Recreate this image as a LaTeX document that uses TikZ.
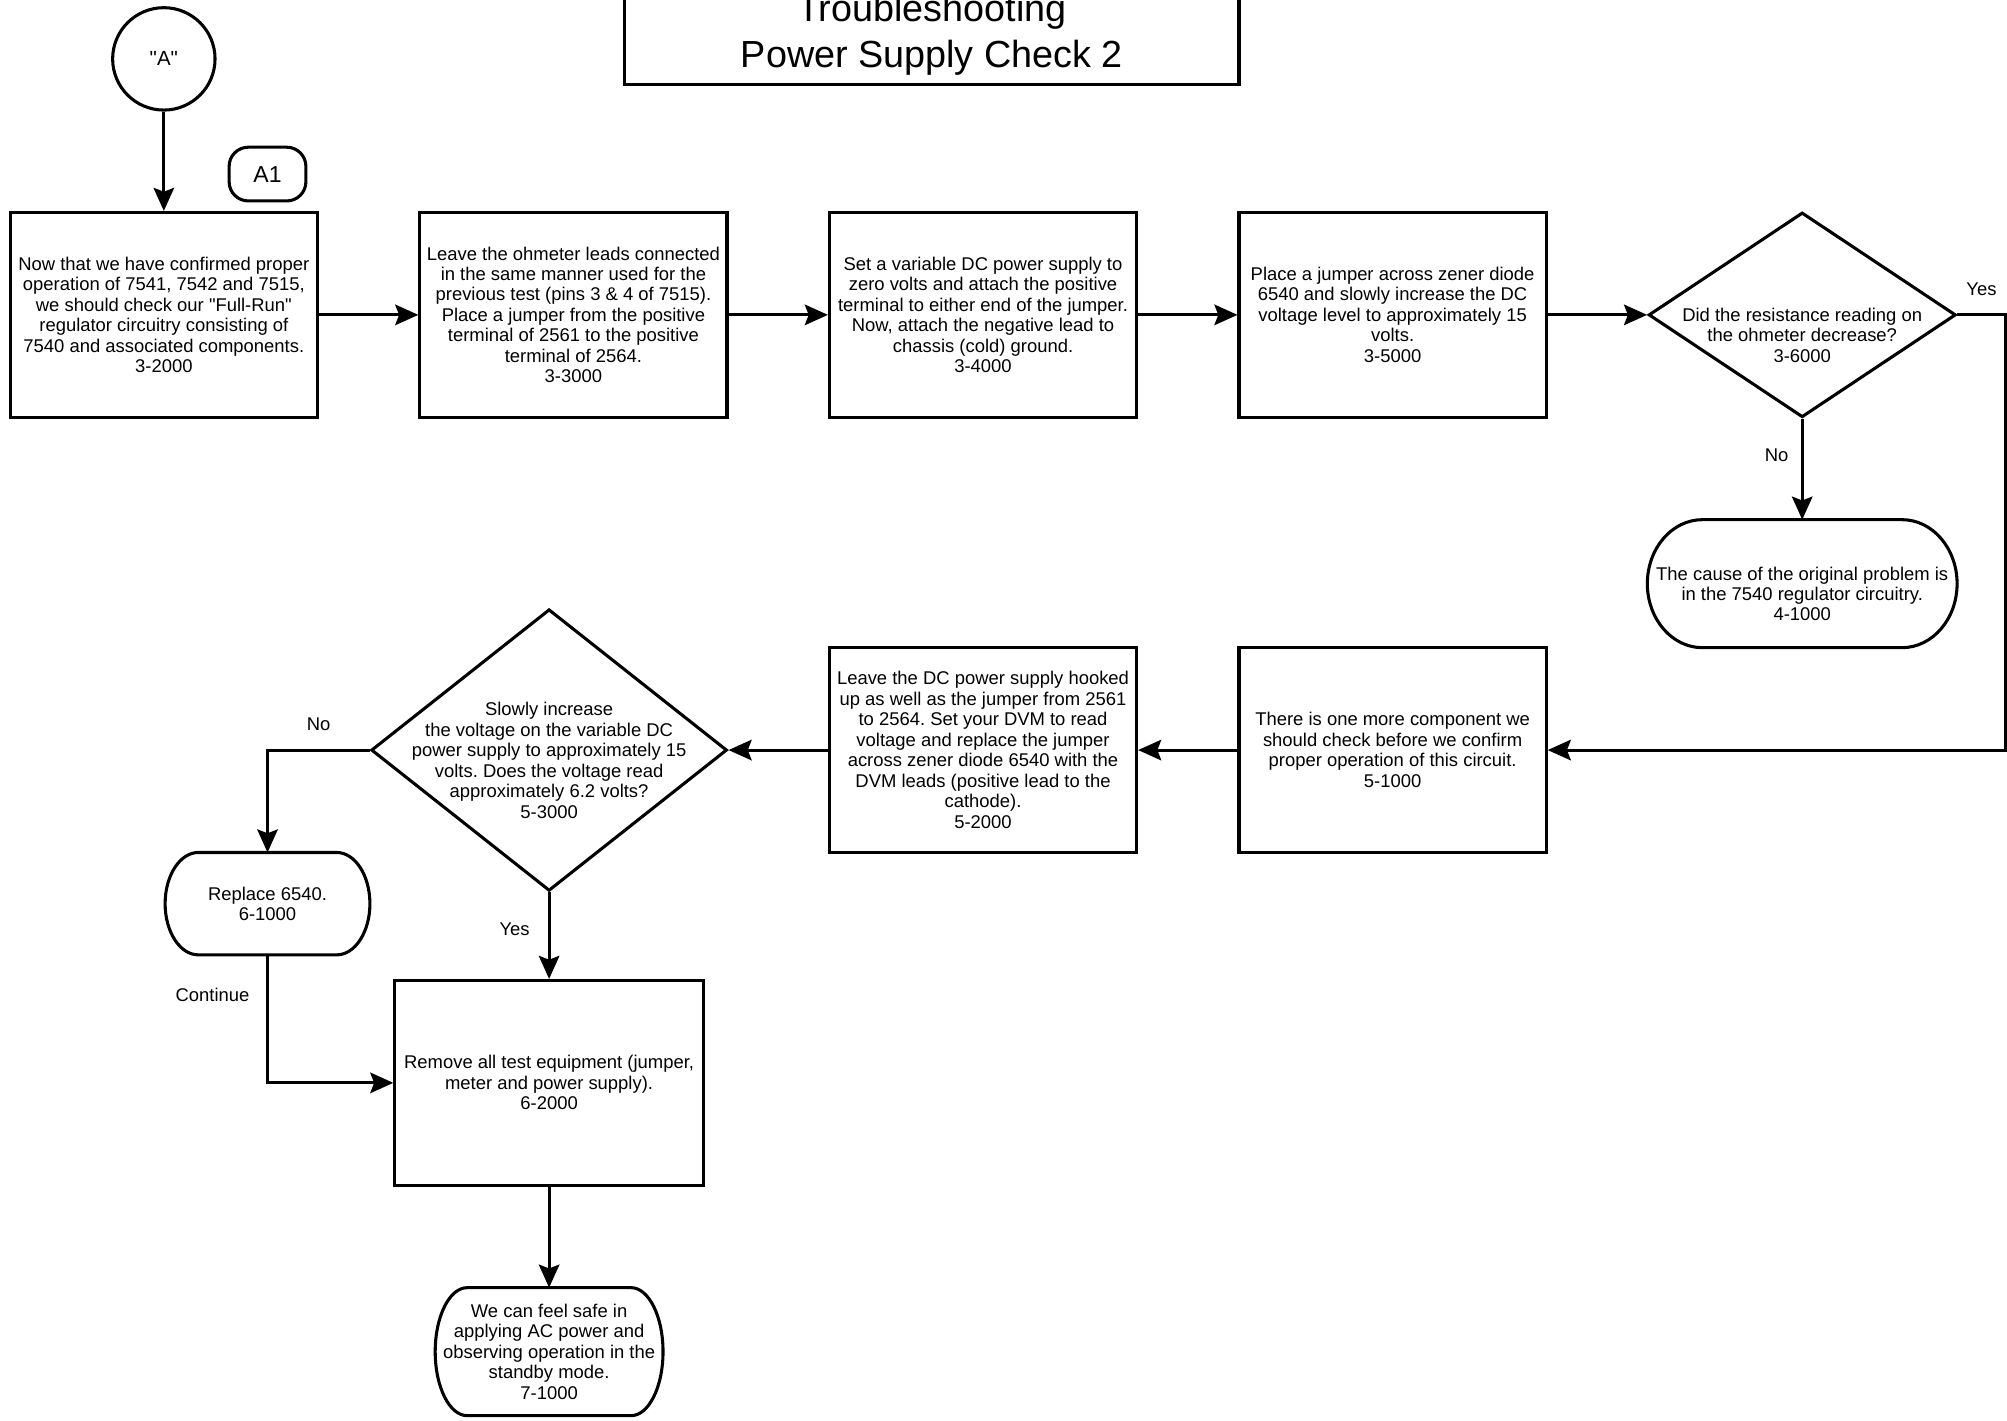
\documentclass[tikz,border=0pt]{standalone}
\usepackage{fontspec}
\setmainfont{Liberation Sans}[Ligatures=TeXOff]
\usetikzlibrary{shapes.geometric,arrows.meta}
\frenchspacing

\begin{document}
\begin{tikzpicture}[x=1pt,y=-1pt,
  every node/.style={font=\fontsize{14.4}{16}\selectfont, align=center},
  stepbox/.style={draw, line width=2.4pt, rectangle, minimum width=240pt,
    minimum height=160pt, inner sep=0pt},
  decision/.style={draw, line width=2.4pt, diamond, inner sep=0pt},
  termnode/.style={rectangle, inner sep=0pt, outer sep=0pt},
  flow/.style={line width=2.4pt, -{Stealth[length=18pt,width=16pt,inset=3pt]}},
  outline/.style={line width=2.4pt}
]
\useasboundingbox (0,0) rectangle (1568,1110);

% heading
\node[draw, line width=2.4pt, minimum width=480pt, minimum height=78pt, inner sep=0pt,
  font=\fontsize{29.5}{36}\selectfont] (title) at (728,27)
  {Troubleshooting\\Power Supply Check 2};

% entry connector and page tag
\node[draw, circle, line width=2.4pt, minimum size=80pt, inner sep=0pt,
  font=\fontsize{16}{18}\selectfont] (start) at (128,46) {"A"};
\node[draw, line width=2.4pt, rounded corners=15pt, minimum width=60pt,
  minimum height=42pt, inner sep=0pt, font=\fontsize{18}{20}\selectfont] (a1) at (209,136) {A1};

% first row
\node[stepbox] (b1) at (128,246) {Now that we have confirmed proper\\operation of 7541, 7542 and 7515,\\we should check our "Full-Run"\\regulator circuitry consisting of\\7540 and associated components.\\3-2000};
\node[stepbox] (b2) at (448,246) {Leave the ohmeter leads connected\\in the same manner used for the\\previous test (pins 3 \& 4 of 7515).\\Place a jumper from the positive\\terminal of 2561 to the positive\\terminal of 2564.\\3-3000};
\node[stepbox] (b3) at (768,246) {Set a variable DC power supply to\\zero volts and attach the positive\\terminal to either end of the jumper.\\Now, attach the negative lead to\\chassis (cold) ground.\\3-4000};
\node[stepbox] (b4) at (1088,246) {Place a jumper across zener diode\\6540 and slowly increase the DC\\voltage level to approximately 15\\volts.\\3-5000};
\node[decision, minimum width=240pt, minimum height=160pt,
  label={[yshift=-16pt]center:Did the resistance reading on\\the ohmeter decrease?\\3-6000}] (d1) at (1408,246) {};
\node[termnode, minimum width=242pt, minimum height=100pt,
  label={[yshift=-8pt]center:The cause of the original problem is\\in the 7540 regulator circuitry.\\4-1000}] (t1) at (1408,456) {};

% second row
\node[stepbox] (b5) at (1088,586) {There is one more component we\\should check before we confirm\\proper operation of this circuit.\\5-1000};
\node[stepbox] (b6) at (768,586) {Leave the DC power supply hooked\\up as well as the jumper from 2561\\to 2564. Set your DVM to read\\voltage and replace the jumper\\across zener diode 6540 with the\\DVM leads (positive lead to the\\cathode).\\5-2000};
\node[decision, minimum width=278pt, minimum height=220pt,
  label={[yshift=-8pt]center:Slowly increase\\the voltage on the variable DC\\power supply to approximately 15\\volts. Does the voltage read\\approximately 6.2 volts?\\5-3000}] (d2) at (429,586) {};
\node[termnode, minimum width=160pt, minimum height=80pt] (t2) at (209,706) {Replace 6540.\\6-1000};
\node[stepbox, minimum width=241pt] (b7) at (429,846) {Remove all test equipment (jumper,\\meter and power supply).\\6-2000};
\node[termnode, minimum width=178pt, minimum height=100pt] (t3) at (429,1056) {We can feel safe in\\applying AC power and\\observing operation in the\\standby mode.\\7-1000};

% terminator outlines: flat top and bottom, elliptical ends
\foreach \n/\rx/\ry in {t1/43/50, t2/26/40, t3/25/50}
  \draw[outline] ([xshift=\rx pt]\n.north west) -- ([xshift=-\rx pt]\n.north east)
    arc[start angle=90, end angle=-90, x radius=\rx pt, y radius=\ry pt]
    -- ([xshift=\rx pt]\n.south west)
    arc[start angle=270, end angle=90, x radius=\rx pt, y radius=\ry pt] -- cycle;

% connectors
\coordinate (rim) at (1566.5,246);
\draw[flow] (start) -- (b1);
\draw[flow] (b1) -- (b2);
\draw[flow] (b2) -- (b3);
\draw[flow] (b3) -- (b4);
\draw[flow] (b4) -- (d1);
\draw[flow] (d1.south) -- (t1.north);
\draw[flow] (d1.east) -- (rim) |- (b5.east);
\draw[flow] (b5) -- (b6);
\draw[flow] (b6) -- (d2);
\draw[flow] (d2.west) -| (t2.north);
\draw[flow] (d2.south) -- (b7.north);
\draw[flow] (t2.south) |- (b7.west);
\draw[flow] (b7) -- (t3);

% branch labels
\node (yes1) at (1548,226) {Yes};
\node (no1) at (1388,356) {No};
\node (no2) at (249,566) {No};
\node (yes2) at (402,726) {Yes};
\node (cont) at (166,777) {Continue};
\end{tikzpicture}
\end{document}
